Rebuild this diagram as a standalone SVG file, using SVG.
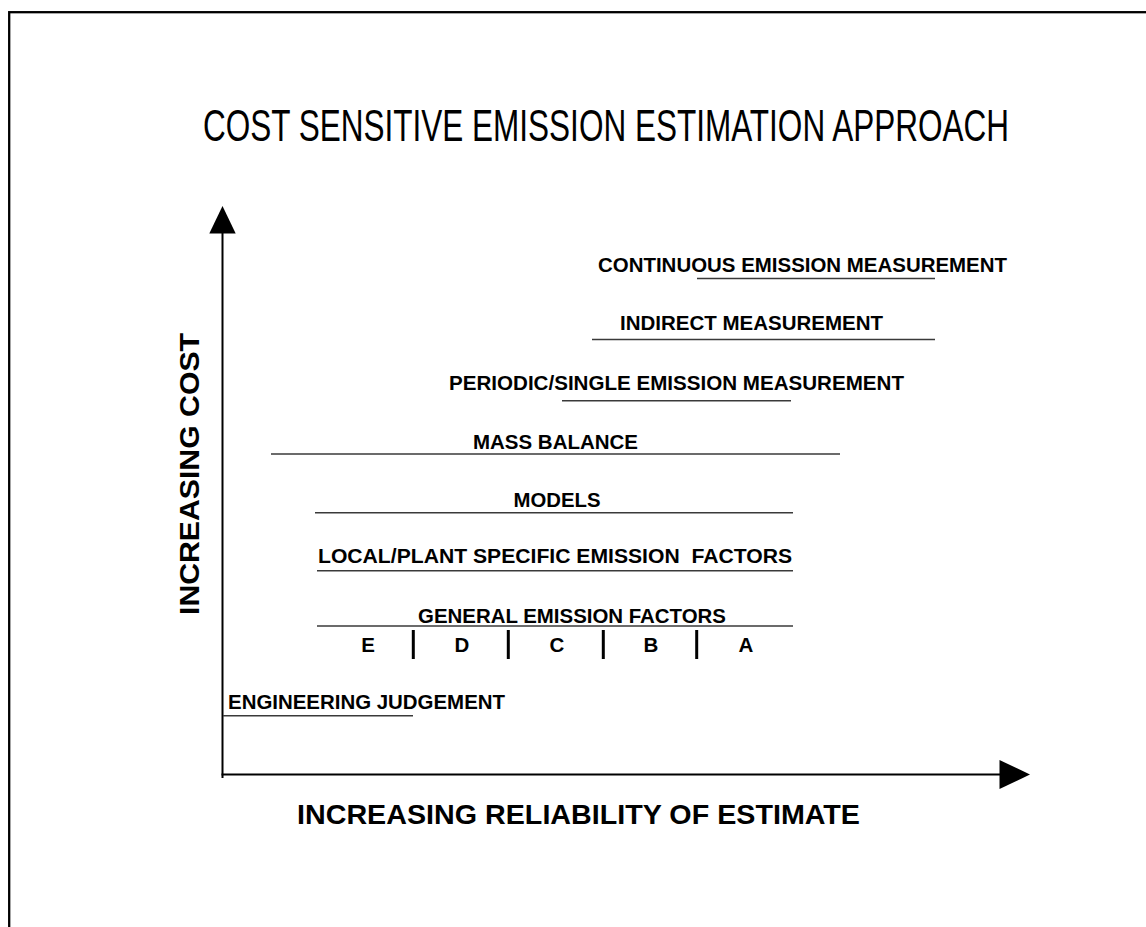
<svg xmlns="http://www.w3.org/2000/svg" width="1146" height="927" viewBox="0 0 1146 927">
  <style>
    .lbl { font-family: "Liberation Sans", Arial, sans-serif; font-weight: bold; font-size: 20.5px; fill: #000; white-space: pre; }
    .axis-lbl { font-family: "Liberation Sans", Arial, sans-serif; font-weight: bold; font-size: 28.5px; fill: #000; }
    .title { font-family: "Liberation Sans", Arial, sans-serif; font-size: 44px; fill: #000; }
    .ul { stroke: #3a3a3a; stroke-width: 1.6; fill: none; }
    .axis { stroke: #000; stroke-width: 2; fill: none; }
    .bar { stroke: #000; stroke-width: 3; }
    .head { fill: #000; }
  </style>
  <rect x="0" y="0" width="1146" height="927" fill="#fff"/>
  <rect x="9.2" y="12.2" width="1200" height="1000" fill="none" stroke="#000" stroke-width="2.3"/>

  <g id="title">
    <text class="title" x="203" y="141" textLength="806" lengthAdjust="spacingAndGlyphs">COST SENSITIVE EMISSION ESTIMATION APPROACH</text>
  </g>

  <g id="connectors">
    <line class="axis" x1="222.5" y1="778" x2="222.5" y2="232"/>
    <polygon class="head" points="209.3,233.5 235.7,233.5 222.5,206"/>
    <line class="axis" x1="221.5" y1="774.5" x2="1000" y2="774.5"/>
    <polygon class="head" points="999.5,760 999.5,789 1030,774.5"/>
  </g>

  <g id="y-axis-label">
    <text class="axis-lbl" transform="translate(199,474) rotate(-90)" text-anchor="middle" textLength="282" lengthAdjust="spacingAndGlyphs">INCREASING COST</text>
  </g>
  <g id="x-axis-label">
    <text class="axis-lbl" x="297" y="824" textLength="563" lengthAdjust="spacingAndGlyphs">INCREASING RELIABILITY OF ESTIMATE</text>
  </g>

  <g id="continuous">
    <text class="lbl" x="598" y="271.7" textLength="409" lengthAdjust="spacingAndGlyphs">CONTINUOUS EMISSION MEASUREMENT</text>
    <line class="ul" x1="697" y1="278.5" x2="935" y2="278.5"/>
  </g>
  <g id="indirect">
    <text class="lbl" x="620" y="330" textLength="263" lengthAdjust="spacingAndGlyphs">INDIRECT MEASUREMENT</text>
    <line class="ul" x1="592" y1="339.5" x2="935" y2="339.5"/>
  </g>
  <g id="periodic">
    <text class="lbl" x="449" y="390" textLength="455" lengthAdjust="spacingAndGlyphs">PERIODIC/SINGLE EMISSION MEASUREMENT</text>
    <line class="ul" x1="562" y1="400.7" x2="791" y2="400.7"/>
  </g>
  <g id="mass-balance">
    <text class="lbl" x="473" y="449.3" textLength="165" lengthAdjust="spacingAndGlyphs">MASS BALANCE</text>
    <line class="ul" x1="271" y1="454" x2="840" y2="454"/>
  </g>
  <g id="models">
    <text class="lbl" x="513.5" y="506.7" textLength="87" lengthAdjust="spacingAndGlyphs">MODELS</text>
    <line class="ul" x1="315" y1="512.7" x2="793" y2="512.7"/>
  </g>
  <g id="local">
    <text class="lbl" x="318" y="563" textLength="474" lengthAdjust="spacingAndGlyphs">LOCAL/PLANT SPECIFIC EMISSION  FACTORS</text>
    <line class="ul" x1="317" y1="570.7" x2="793" y2="570.7"/>
  </g>
  <g id="general">
    <text class="lbl" x="418" y="623" textLength="308" lengthAdjust="spacingAndGlyphs">GENERAL EMISSION FACTORS</text>
    <line class="ul" x1="317" y1="626" x2="793" y2="626"/>
  </g>
  <g id="grades">
    <text class="lbl" x="368" y="652" text-anchor="middle">E</text>
    <text class="lbl" x="462" y="652" text-anchor="middle">D</text>
    <text class="lbl" x="557" y="652" text-anchor="middle">C</text>
    <text class="lbl" x="651" y="652" text-anchor="middle">B</text>
    <text class="lbl" x="746" y="652" text-anchor="middle">A</text>
    <line class="bar" x1="413.3" y1="630" x2="413.3" y2="659"/>
    <line class="bar" x1="508.3" y1="630" x2="508.3" y2="659"/>
    <line class="bar" x1="603.3" y1="630" x2="603.3" y2="659"/>
    <line class="bar" x1="696.7" y1="630" x2="696.7" y2="659"/>
  </g>
  <g id="engineering">
    <text class="lbl" x="228" y="709.3" textLength="277" lengthAdjust="spacingAndGlyphs">ENGINEERING JUDGEMENT</text>
    <line class="ul" x1="223" y1="715.7" x2="413" y2="715.7"/>
  </g>
</svg>
